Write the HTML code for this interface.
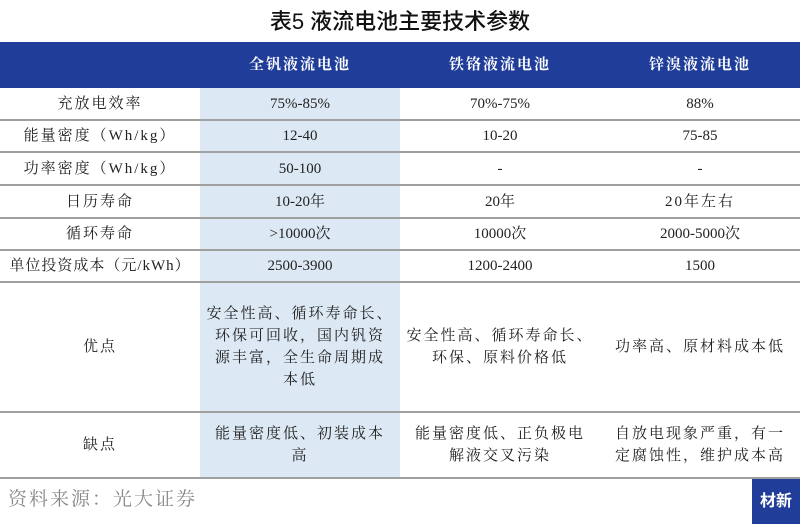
<!DOCTYPE html>
<html><head><meta charset="utf-8"><style>
body{margin:0;width:800px;height:524px;background:#fff;position:relative;overflow:hidden;font-family:"Liberation Serif","Noto Serif CJK SC",serif;color:#222}
.a{position:absolute}
.t{left:0;width:800px;top:4px;text-align:center;font-size:22px;font-family:"Liberation Sans","Noto Sans CJK SC",sans-serif;color:#111;font-weight:500}
.hd{left:0;top:42px;width:800px;height:46px;background:#1f3d99}
.hl{left:200px;top:88px;width:200px;height:390px;background:#dce8f4}
.ln{left:0;width:800px;height:2px;background:#a0a0a0}
.c{display:flex;align-items:center;justify-content:center;text-align:center;font-size:15px;line-height:22px;white-space:nowrap}
.s{letter-spacing:2px}
.h{color:#fff;font-weight:bold;font-size:15px;letter-spacing:2px}
</style></head><body>
<div class="a t">表5 液流电池主要技术参数</div>
<div class="a hd"></div>
<div class="a hl"></div>
<div class="a c h" style="left:200px;top:42px;width:200px;height:46px">全钒液流电池</div>
<div class="a c h" style="left:400px;top:42px;width:200px;height:46px">铁铬液流电池</div>
<div class="a c h" style="left:600px;top:42px;width:200px;height:46px">锌溴液流电池</div>
<div class="a ln" style="top:119px"></div>
<div class="a ln" style="top:151px"></div>
<div class="a ln" style="top:184px"></div>
<div class="a ln" style="top:217px"></div>
<div class="a ln" style="top:249px"></div>
<div class="a ln" style="top:281px"></div>
<div class="a ln" style="top:411px"></div>
<div class="a ln" style="top:477px"></div>

<div class="a c s" style="left:0;top:88px;width:200px;height:31px">充放电效率</div>
<div class="a c" style="left:200px;top:88px;width:200px;height:31px">75%-85%</div>
<div class="a c" style="left:400px;top:88px;width:200px;height:31px">70%-75%</div>
<div class="a c" style="left:600px;top:88px;width:200px;height:31px">88%</div>

<div class="a c s" style="left:0;top:121px;width:200px;height:30px">能量密度（Wh/kg）</div>
<div class="a c" style="left:200px;top:121px;width:200px;height:30px">12-40</div>
<div class="a c" style="left:400px;top:121px;width:200px;height:30px">10-20</div>
<div class="a c" style="left:600px;top:121px;width:200px;height:30px">75-85</div>

<div class="a c s" style="left:0;top:153px;width:200px;height:31px">功率密度（Wh/kg）</div>
<div class="a c" style="left:200px;top:153px;width:200px;height:31px">50-100</div>
<div class="a c" style="left:400px;top:153px;width:200px;height:31px">-</div>
<div class="a c" style="left:600px;top:153px;width:200px;height:31px">-</div>

<div class="a c s" style="left:0;top:186px;width:200px;height:31px">日历寿命</div>
<div class="a c" style="left:200px;top:186px;width:200px;height:31px">10-20年</div>
<div class="a c" style="left:400px;top:186px;width:200px;height:31px">20年</div>
<div class="a c s" style="left:600px;top:186px;width:200px;height:31px">20年左右</div>

<div class="a c s" style="left:0;top:219px;width:200px;height:30px">循环寿命</div>
<div class="a c" style="left:200px;top:219px;width:200px;height:30px">&gt;10000次</div>
<div class="a c" style="left:400px;top:219px;width:200px;height:30px">10000次</div>
<div class="a c" style="left:600px;top:219px;width:200px;height:30px">2000-5000次</div>

<div class="a c" style="left:0;top:251px;width:200px;height:30px;letter-spacing:1px">单位投资成本（元/kWh）</div>
<div class="a c" style="left:200px;top:251px;width:200px;height:30px">2500-3900</div>
<div class="a c" style="left:400px;top:251px;width:200px;height:30px">1200-2400</div>
<div class="a c" style="left:600px;top:251px;width:200px;height:30px">1500</div>

<div class="a c s" style="left:0;top:283px;width:200px;height:128px">优点</div>
<div class="a c s" style="left:200px;top:283px;width:200px;height:128px">安全性高、循环寿命长、<br>环保可回收，国内钒资<br>源丰富，全生命周期成<br>本低</div>
<div class="a c s" style="left:400px;top:283px;width:200px;height:128px">安全性高、循环寿命长、<br>环保、原料价格低</div>
<div class="a c s" style="left:600px;top:283px;width:200px;height:128px">功率高、原材料成本低</div>

<div class="a c s" style="left:0;top:413px;width:200px;height:64px">缺点</div>
<div class="a c s" style="left:200px;top:413px;width:200px;height:64px">能量密度低、初装成本<br>高</div>
<div class="a c s" style="left:400px;top:413px;width:200px;height:64px">能量密度低、正负极电<br>解液交叉污染</div>
<div class="a c s" style="left:600px;top:413px;width:200px;height:64px">自放电现象严重，有一<br>定腐蚀性，维护成本高</div>

<div class="a" style="left:8px;top:484px;font-size:19px;color:#888;letter-spacing:2px">资料来源：光大证券</div>
<div class="a c" style="left:752px;top:479px;width:48px;height:45px;background:#1f3d99;color:#fff;font-weight:bold;font-size:16px;font-family:'Liberation Sans','Noto Sans CJK SC',sans-serif">材新</div>
</body></html>
